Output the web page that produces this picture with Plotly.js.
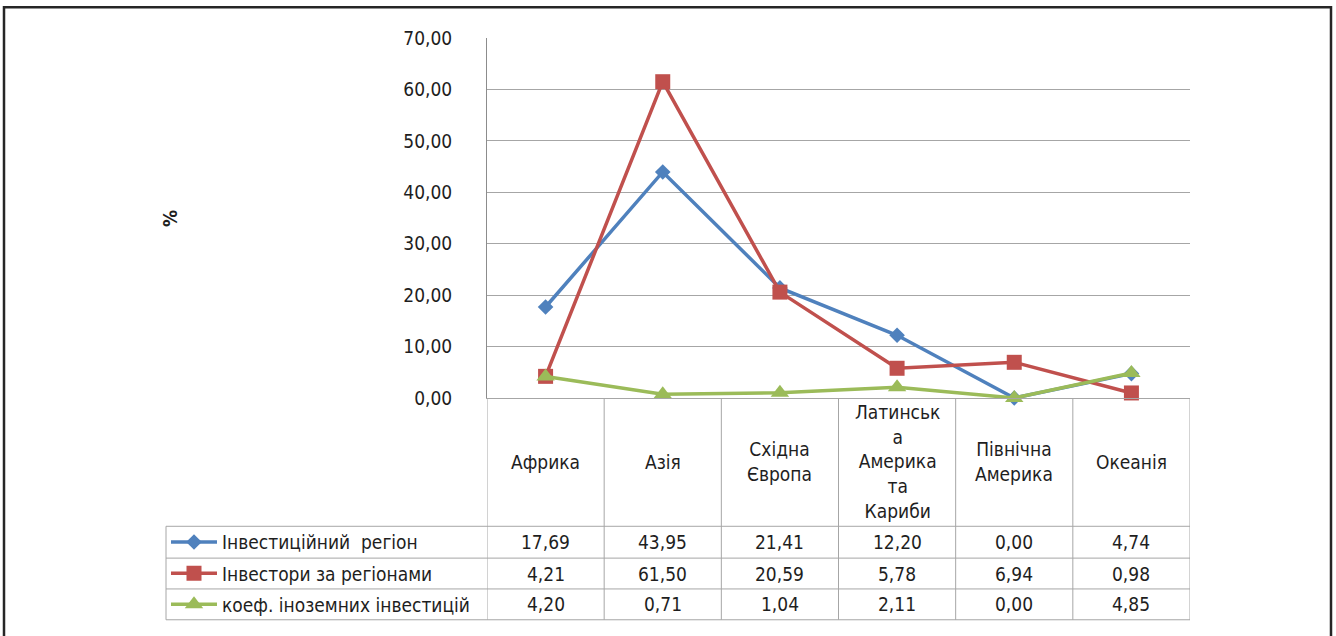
<!DOCTYPE html>
<html><head><meta charset="utf-8">
<script src="https://cdn.plot.ly/plotly-3.0.1.min.js"></script>
<style>body{margin:0;background:#fff}</style>
</head><body><div id="chart" style="width:1336px;height:636px"></div>
<script>
const categories = ['Африка','Азія','Східна Європа','Латинська Америка та Кариби','Північна Америка','Океанія'];
const categoryLabels = ['Африка','Азія','Східна<br>Європа','Латинськ<br>а<br>Америка<br>та<br>Кариби','Північна<br>Америка','Океанія'];
const seriesNames = ['Інвестиційний  регіон','Інвестори за регіонами','коеф. іноземних інвестицій'];
const investRegion = [17.69,43.95,21.41,12.20,0.00,4.74];
const investors = [4.21,61.50,20.59,5.78,6.94,0.98];
const foreignCoef = [4.20,0.71,1.04,2.11,0.00,4.85];
const yTicks = [0,10,20,30,40,50,60,70];

const FONT = '"Liberation Sans Narrow", "DejaVu Sans Condensed", Lato, sans-serif';
const TXT = '#1e1e1e';
const GRID = '#a6a6a6';
const FS = 19;
const L=487, R=1190, T=38, B=400;
const px2x = p => (p-L)/(R-L);
const py2y = p => (B-p)/(B-T);

const seriesData = [investRegion, investors, foreignCoef];
const colors = ['#4F81BD','#C0504D','#9BBB59'];
const symbols = ['diamond','square','triangle-up'];
const sizes = [12,15,16];
const legendIds = ['legend','legend2','legend3'];
const rowEdges = [529,561,592,623];
const rowCenters = [545,576.5,607.5];

const traces = seriesData.map((d,k)=>({
  type:'scatter', mode:'lines+markers', x:categories, y:d, name:seriesNames[k],
  line:{color:colors[k], width:3.5}, marker:{symbol:symbols[k], size:sizes[k], color:colors[k]},
  legend: legendIds[k], cliponaxis:false, hoverinfo:'skip'
}));

const shapes = [];
const lineStyle = {color:GRID, width:1};
rowEdges.forEach(py=>shapes.push({type:'line', xref:'paper', yref:'paper', x0:px2x(166), x1:1, y0:py2y(py), y1:py2y(py), line:lineStyle}));
shapes.push({type:'line', xref:'paper', yref:'paper', x0:px2x(166), x1:px2x(166), y0:py2y(529), y1:py2y(623), line:lineStyle});
for(let i=0;i<=categories.length;i++){
  shapes.push({type:'line', xref:'x', yref:'paper', x0:i-0.5, x1:i-0.5, y0:0, y1:py2y(623), line:lineStyle});
}
shapes.push({type:'rect', xref:'paper', yref:'paper', x0:px2x(4), x1:px2x(1331), y0:py2y(660), y1:py2y(7), line:{color:'#262626', width:2.5}, layer:'above'});

const annotations = [];
categoryLabels.forEach((c,i)=>annotations.push({xref:'x', yref:'paper', x:i, y:py2y(464), text:c, showarrow:false, xanchor:'center', yanchor:'middle', font:{size:FS, color:TXT, family:FONT}}));
seriesData.forEach((d,k)=>d.forEach((v,i)=>annotations.push({xref:'x', yref:'paper', x:i, y:py2y(rowCenters[k]), text:v.toFixed(2).replace('.',','), showarrow:false, xanchor:'center', yanchor:'middle', font:{size:FS, color:TXT, family:FONT}})));
annotations.push({xref:'paper', yref:'paper', x:px2x(170), y:py2y(220), text:'<b>%</b>', textangle:-90, showarrow:false, xanchor:'center', yanchor:'middle', font:{size:FS, color:TXT, family:FONT}});

const legendBase = k => ({x:px2x(166), xanchor:'left', y:py2y(rowCenters[k]), yanchor:'middle', bgcolor:'rgba(0,0,0,0)', borderwidth:0, itemwidth:46, font:{size:FS, color:TXT, family:FONT}, itemclick:false, itemdoubleclick:false});

const layout = {
  width:1336, height:636, paper_bgcolor:'#fff', plot_bgcolor:'#fff',
  margin:{l:L, r:1336-R, t:T, b:636-B, pad:0},
  separators:', ',
  font:{family:FONT, color:TXT, size:FS},
  showlegend:true,
  legend:legendBase(0), legend2:legendBase(1), legend3:legendBase(2),
  xaxis:{type:'category', range:[-0.5,5.5], showticklabels:false, showgrid:false, zeroline:false, showline:true, linecolor:GRID, linewidth:1, ticks:'', fixedrange:true},
  yaxis:{range:[0,70], tickvals:yTicks, tickformat:'.2f', showgrid:true, gridcolor:GRID, gridwidth:1, zeroline:false, showline:true, linecolor:'#8c8c8c', linewidth:1, ticks:'', ticklabelstandoff:30, tickfont:{size:FS, color:TXT, family:FONT}, fixedrange:true},
  shapes:shapes, annotations:annotations
};
Plotly.newPlot('chart', traces, layout, {displayModeBar:false, staticPlot:true});
</script></body></html>
